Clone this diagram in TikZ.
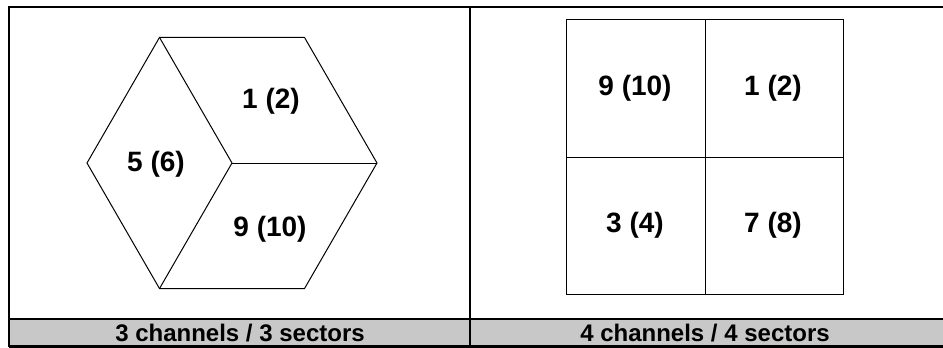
\documentclass[tikz,border=0pt]{standalone}
\usepackage{fontspec}
\setmainfont{Liberation Sans}
\definecolor{bandgray}{RGB}{200,200,200}
\begin{document}
\begin{tikzpicture}[x=1pt,y=-1pt,
  frame/.style={line width=2.2pt},
  edge/.style={line width=1pt},
  sector/.style={font=\fontsize{28}{32}\selectfont\bfseries},
  caption/.style={font=\fontsize{24}{28}\selectfont\bfseries}]
\useasboundingbox (0,0) rectangle (943,348);

% table
\fill[bandgray] (9,319) rectangle (943,346.5);
\draw[frame] (9,346.5)--(9,7)--(943,7);
\draw[frame] (470,7)--(470,346.5);
\draw[frame] (9,319)--(943,319);
\draw[frame] (9,346.5)--(943,346.5);

% hexagon, 3 sectors
\coordinate (hc) at (232,163);
\draw[edge] (hc) ++(0:145) -- ++(120:145) -- ++(180:145) -- ++(240:145)
  -- ++(300:145) -- ++(0:145) -- cycle;
\draw[edge] (hc) -- ++(0:145);
\draw[edge] (hc) -- ++(120:145);
\draw[edge] (hc) -- ++(240:145);

\node[sector] (h1) at (271,101) {1 (2)};
\node[sector] (h5) at (156,164) {5 (6)};
\node[sector] (h9) at (270,229) {9 (10)};

% square, 4 sectors
\draw[edge] (566,19) rectangle (843,294);
\draw[edge] (705,19)--(705,294);
\draw[edge] (566,157)--(843,157);

\node[sector] (s9) at (635,88) {9 (10)};
\node[sector] (s1) at (773,88) {1 (2)};
\node[sector] (s3) at (635,225) {3 (4)};
\node[sector] (s7) at (773,225) {7 (8)};

% captions
\node[caption] (c3) at (240,333) {3 channels / 3 sectors};
\node[caption] (c4) at (705,333) {4 channels / 4 sectors};
\end{tikzpicture}
\end{document}
